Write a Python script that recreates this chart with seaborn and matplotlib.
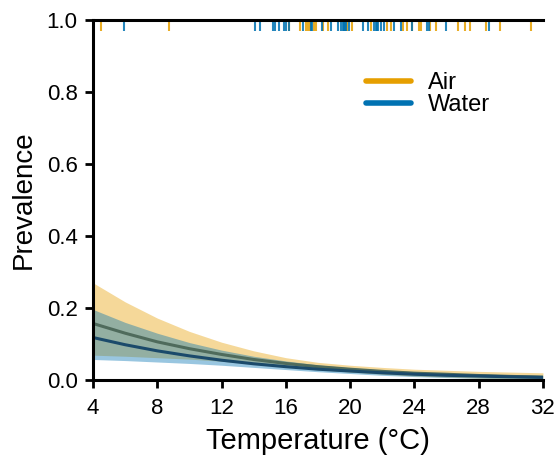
   #import libraries.
import numpy as np
import pandas as pd
import seaborn as sns
import matplotlib.pyplot as plt
from matplotlib.lines import Line2D

   #values (prevalence at each temperature).
temp = [4, 6, 8, 10, 12, 14, 16, 18, 20, 22, 24, 26, 28, 30, 32]

air_mean = [0.157, 0.130, 0.106, 0.087, 0.071, 0.057, 0.046, 0.037, 0.030, 0.024, 0.019, 0.016, 0.0125, 0.010, 0.008]
air_upper = [0.270, 0.217, 0.172, 0.135, 0.105, 0.081, 0.062, 0.049, 0.041, 0.035, 0.030, 0.027, 0.024, 0.022, 0.020]
air_lower = [0.069, 0.066, 0.062, 0.058, 0.052, 0.045, 0.037, 0.029, 0.022, 0.016, 0.011, 0.008, 0.005, 0.0035, 0.0025]

water_mean = [0.118, 0.098, 0.081, 0.067, 0.055, 0.045, 0.037, 0.030, 0.025, 0.020, 0.016, 0.013, 0.011, 0.0089, 0.0072]
water_upper = [0.196, 0.160, 0.130, 0.104, 0.083, 0.066, 0.053, 0.042, 0.034, 0.028, 0.023, 0.019, 0.017, 0.015, 0.013]
water_lower = [0.057, 0.054, 0.050, 0.046, 0.041, 0.035, 0.029, 0.023, 0.018, 0.013, 0.0095, 0.0068, 0.0048, 0.0034, 0.0024]

   #observed temperatures (rug at the top).
air_obs = [4.5, 8.7, 16.2, 16.9, 17.24, 17.40, 17.5, 17.77, 17.88, 18.29, 18.64, 19.83, 20.14, 21.28,
           22.31, 22.53, 23.31, 23.52, 23.85, 24.29, 24.39, 24.95, 25.34, 26.73, 27.15, 27.46, 28.44,
           29.33, 31.24]
water_obs = [5.9, 14.1, 14.4, 15.2, 15.3, 15.6, 15.9, 16.0, 16.2, 17.09, 17.57, 17.65, 18.23, 18.81,
             19.23, 19.41, 19.54, 19.62, 19.68, 19.75, 19.9, 20.82, 21.09, 21.5, 21.61, 21.68, 21.75,
             21.90, 22.13, 22.75, 23.15, 23.85, 24.80, 24.88, 25.95, 28.64]

groups = ['Air', 'Water']
colors = {'Air': '#E69F00', 'Water': '#0072B2'}
line_colors = {'Air': '#4f6b5c', 'Water': '#1b4a6b'}

   #long table for seaborn.
df = pd.DataFrame({
    'Temperature': temp * 2,
    'mean': air_mean + water_mean,
    'lower': air_lower + water_lower,
    'upper': air_upper + water_upper,
    'Source': ['Air'] * len(temp) + ['Water'] * len(temp),
})

sns.set_style('ticks')
plt.rcParams['font.family'] = ['Liberation Sans', 'DejaVu Sans']
plt.rcParams['text.color'] = 'black'
plt.rcParams['axes.labelcolor'] = 'black'
plt.rcParams['xtick.color'] = 'black'
plt.rcParams['ytick.color'] = 'black'

fig = plt.figure(figsize=(5.58, 4.58), dpi=100)
ax = fig.add_axes([0.1667, 0.1703, 0.8063, 0.786])

   #confidence bands.
for g in groups:
    sub = df[df['Source'] == g]
    ax.fill_between(sub['Temperature'], sub['lower'], sub['upper'],
                    color=colors[g], alpha=0.4, lw=0)

   #mean lines.
sns.lineplot(data=df, x='Temperature', y='mean', hue='Source', palette=line_colors,
             linewidth=2.2, legend=False, ax=ax)

   #rug at the top.
ax.vlines(air_obs, 0.97, 1.0, color=colors['Air'], lw=1.5, alpha=0.85)
ax.vlines(water_obs, 0.97, 1.0, color=colors['Water'], lw=1.5, alpha=0.85)

ax.set_xlim(4, 32)
ax.set_ylim(0, 1)
ax.set_xticks(np.arange(4, 33, 4))
ax.set_yticks(np.arange(0, 1.01, 0.2))
ax.set_yticklabels(['0.0', '0.2', '0.4', '0.6', '0.8', '1.0'])
ax.set_xlabel('Temperature (°C)', fontsize=21, labelpad=6)
ax.set_ylabel('Prevalence', fontsize=20, labelpad=7)
ax.tick_params(labelsize=16, width=2, length=6, pad=5)
ax.tick_params(axis='x', pad=7)

for s in ['left', 'bottom', 'top']:
    ax.spines[s].set_linewidth(2.2)
    ax.spines[s].set_color('black')
ax.spines['right'].set_visible(False)

handles = [Line2D([0], [0], color=colors[g], lw=4, solid_capstyle='round') for g in groups]
ax.legend(handles, groups, frameon=False, fontsize=17, loc='upper left',
          bbox_to_anchor=(0.56, 0.915), handlelength=1.9, handletextpad=0.7, labelspacing=0.0)

fig.savefig('out.png', dpi=100)
